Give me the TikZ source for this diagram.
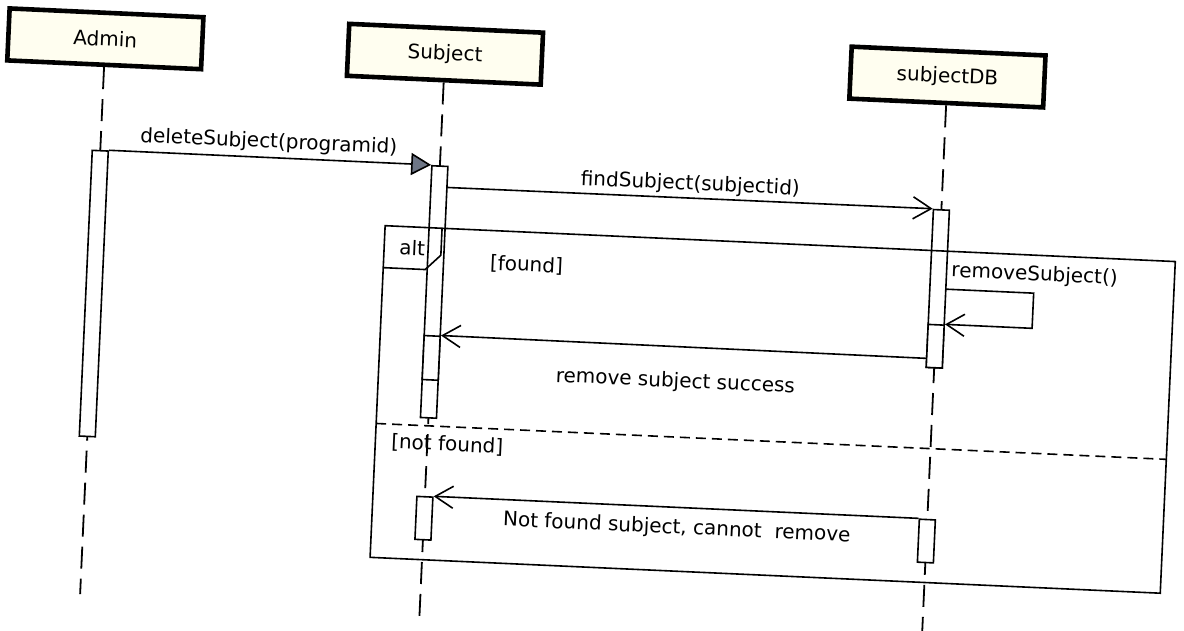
\documentclass[tikz,border=0pt]{standalone}
\usepackage{fontspec}
\setmainfont{DejaVu Sans}
\usetikzlibrary{arrows.meta}

\definecolor{seqHead}{HTML}{FFFEF0}
\definecolor{seqTri}{HTML}{6E7686}

\tikzset{
  lifehead/.style={draw=black, line width=2.3pt, fill=seqHead, minimum width=97pt,
    minimum height=26pt, inner sep=0pt},
  lifeline/.style={line width=0.9pt, dash pattern=on 11pt off 5pt},
  actbar/.style={draw=black, fill=white, line width=0.8pt, minimum width=8pt, inner sep=0pt},
  msg/.style={line width=0.8pt, -{Straight Barb[length=9pt,width=11pt,line width=0.8pt]}},
  callmsg/.style={line width=0.8pt, -{Triangle[length=10pt,width=11pt,fill=seqTri]}},
  frameline/.style={line width=0.8pt},
  lbl/.style={inner sep=0pt},
}

\begin{document}
\begin{tikzpicture}[x=0.5pt, y=0.5pt, font=\fontsize{10}{12}\selectfont]
\useasboundingbox (0,0) rectangle (1184,-631);
\begin{scope}[rotate=-2.6, transform shape]
% lifelines
\node[lifehead] (admin) at (107,-34) {Admin};
\node[lifehead] (subject) at (447,-34) {Subject};
\node[lifehead] (subjectdb) at (950,-34) {subjectDB};
\coordinate (adminend) at (107,-590);
\coordinate (subjectend) at (447,-600);
\coordinate (subjectdbend) at (950,-600);
\draw[lifeline] (admin.south) -- (adminend);
\draw[lifeline] (subject.south) -- (subjectend);
\draw[lifeline] (subjectdb.south) -- (subjectdbend);
% activations
\node[actbar, minimum height=143pt] (adminact) at (107,-289) {};
\node[actbar, minimum height=126pt] (subjact) at (447,-272) {};
\node[actbar, minimum height=22pt] (subjinner) at (447,-338) {};
\node[actbar, minimum height=21.5pt] (subjfail) at (447,-498.5) {};
\node[actbar, minimum height=79pt] (dbact) at (950,-246) {};
\node[actbar, minimum height=21.5pt] (dbinner) at (950,-303.5) {};
\node[actbar, minimum height=21.5pt] (dbfail) at (950,-498.5) {};
% alt fragment
\draw[frameline] (395,-208) rectangle (1186,-540);
\draw[frameline] (395,-250) -- (437,-250) -- (452,-235) -- (452,-208);
\draw[frameline, dash pattern=on 5pt off 3pt] (395,-406) -- (1186,-406);
\node[lbl] (alttag) at (423,-229) {alt};
\node[lbl] (foundguard) at (538,-241) {[found]};
\node[lbl] (notfoundguard) at (467,-424) {[not found]};
% messages
\coordinate (find0) at (455,-167);
\coordinate (self0) at (958,-246);
\coordinate (ok0) at (942,-316);
\draw[callmsg] (adminact.north east) -- (subjact.north west);
\draw[msg] (find0) -- (dbact.north west);
\draw[msg] (self0) -- ++(88,0) |- (dbinner.north east);
\draw[msg] (ok0) -- (subjinner.north east);
\draw[msg] (dbfail.north west) -- (subjfail.north east);
% message labels
\node[lbl] (calllbl) at (275,-130) {deleteSubject(programid)};
\node[lbl] (findlbl) at (698,-153) {findSubject(subjectid)};
\node[lbl] (selflbl) at (1046,-228) {removeSubject()};
\node[lbl] (oklbl) at (692,-351) {remove subject success};
\node[lbl] (faillbl) at (700,-497) {Not found subject, cannot\ \ remove};
\end{scope}
\end{tikzpicture}
\end{document}
